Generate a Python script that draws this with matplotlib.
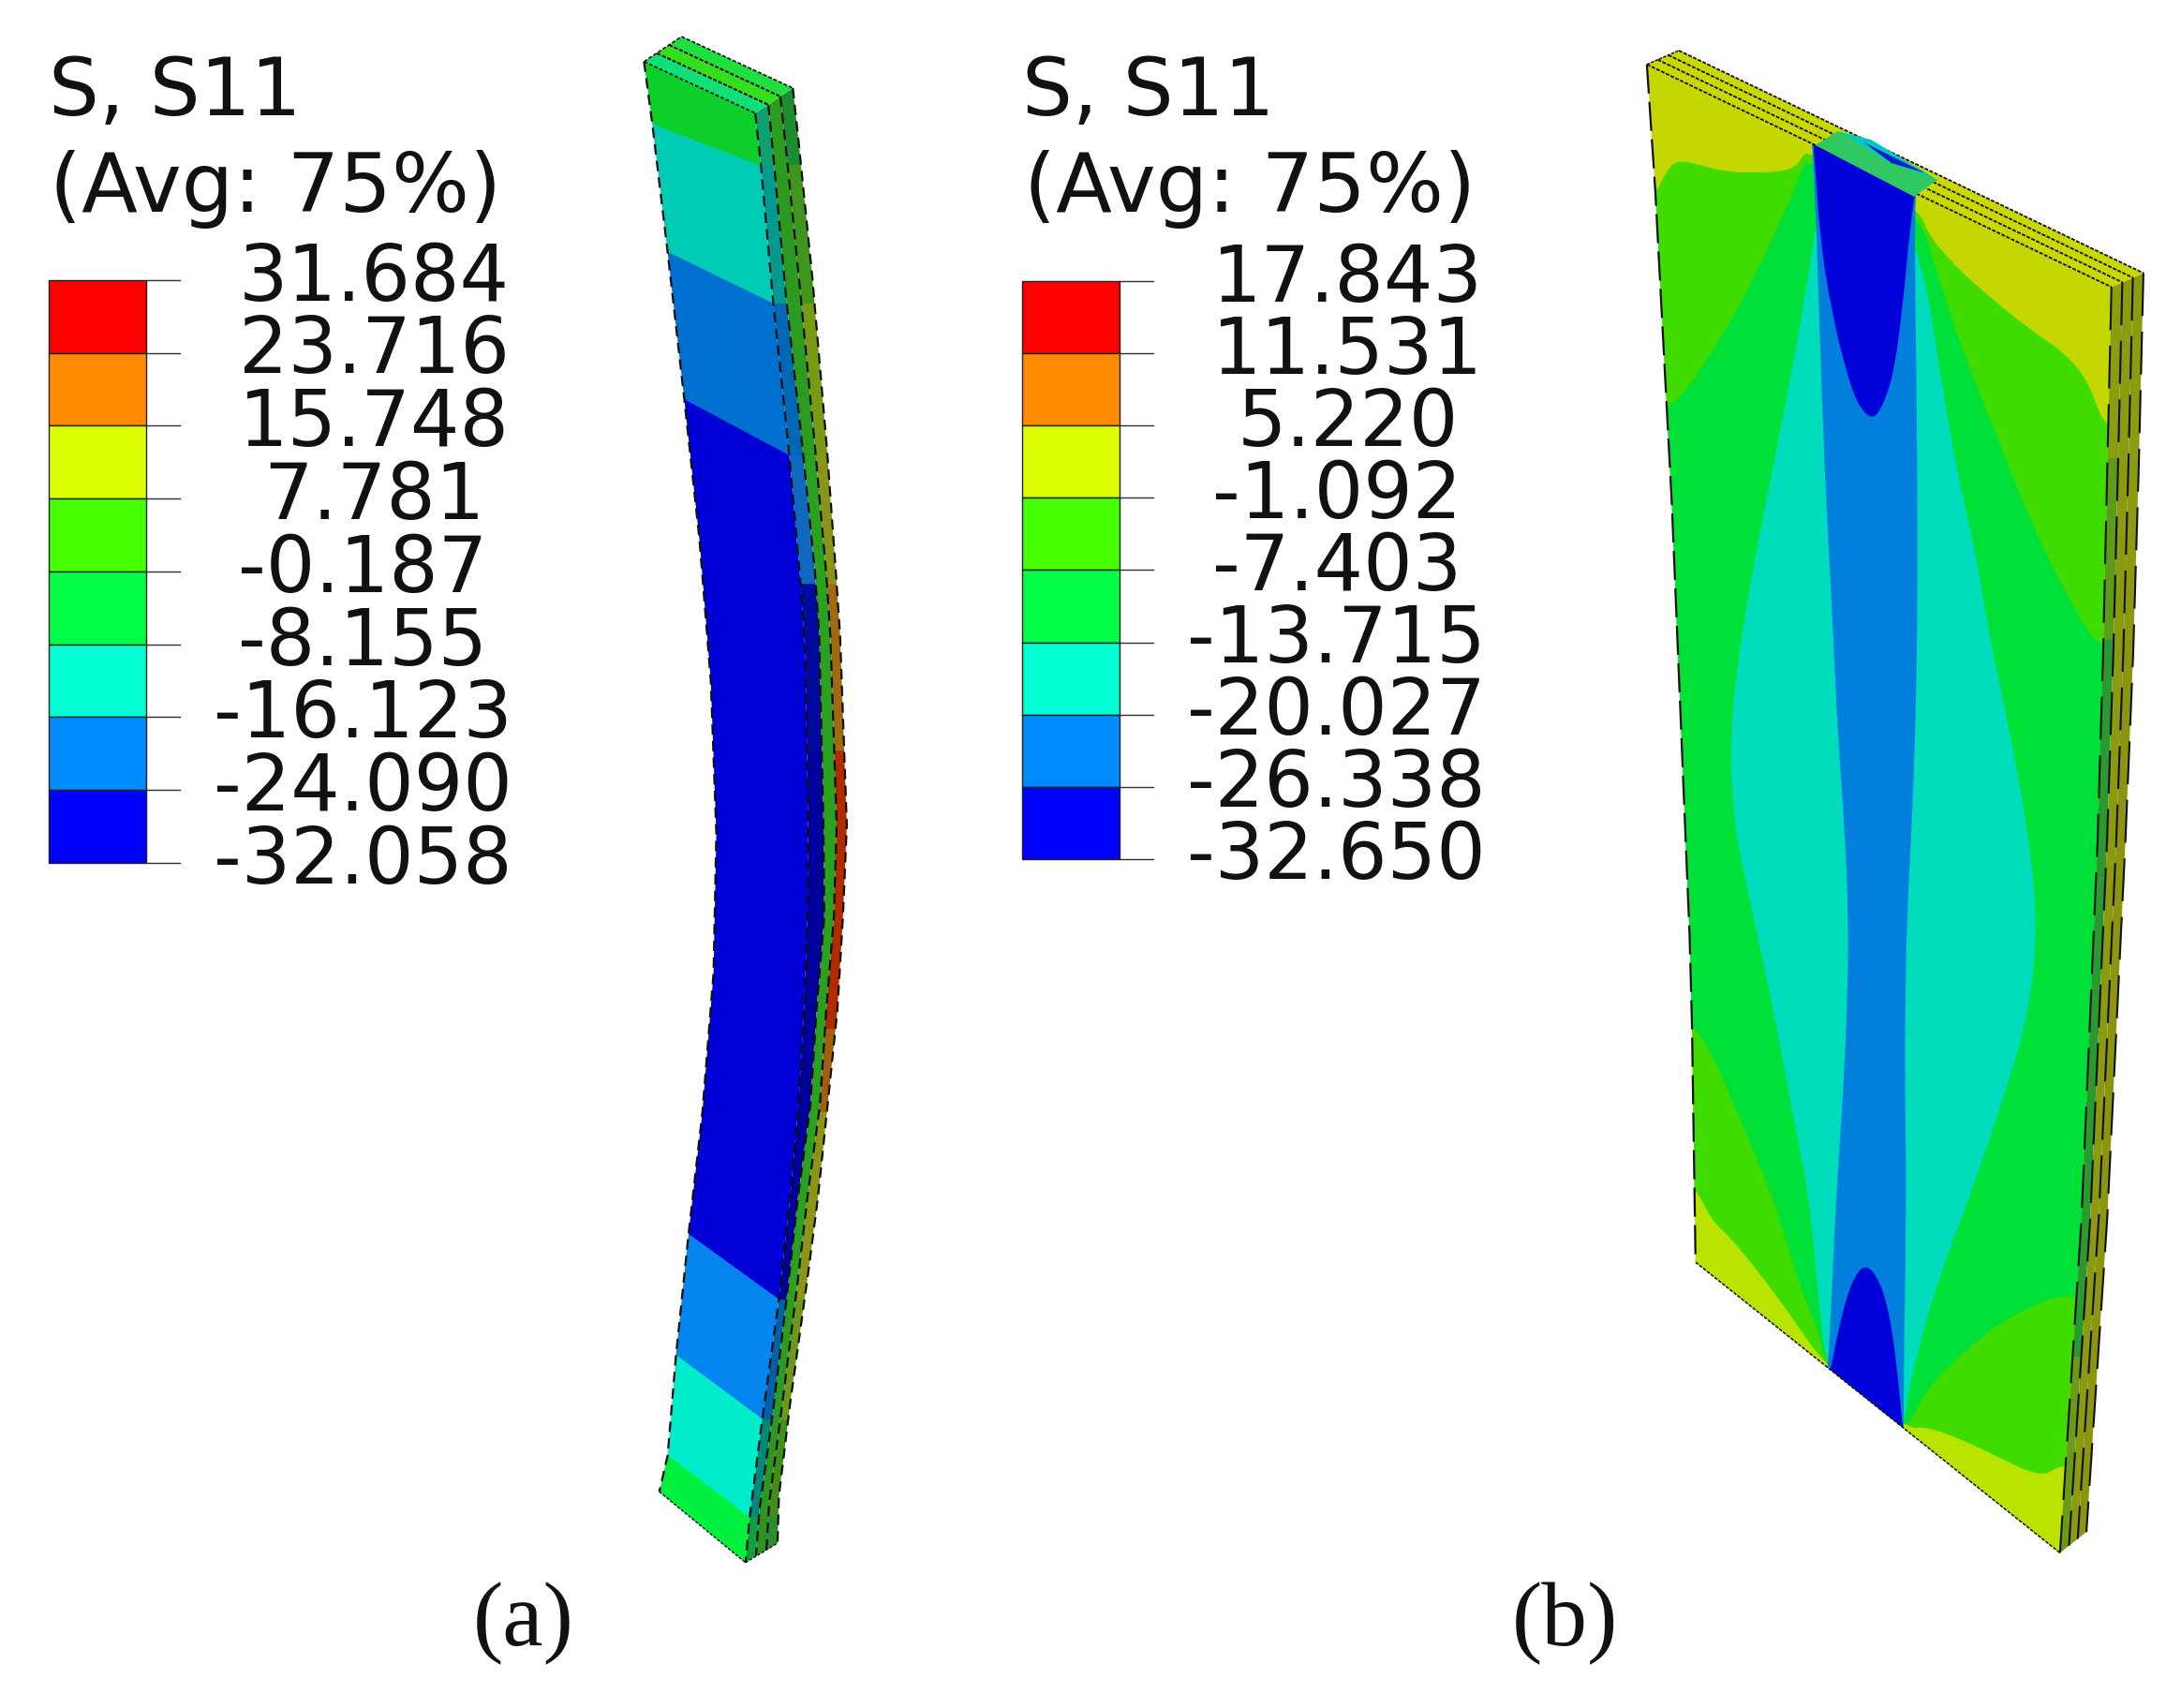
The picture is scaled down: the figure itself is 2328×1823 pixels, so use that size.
#!/usr/bin/python3
import numpy as np
import matplotlib
matplotlib.use("Agg")
import matplotlib.pyplot as plt
from matplotlib.patches import Polygon, Rectangle, PathPatch
from matplotlib.path import Path

# everything is laid out in these units, the picture is 1568 wide
W, H = 1568.0, 1228.5

legend_a = ["31.684", "23.716", "15.748", "7.781", "-0.187", "-8.155", "-16.123", "-24.090", "-32.058"]
legend_b = ["17.843", "11.531", "5.220", "-1.092", "-7.403", "-13.715", "-20.027", "-26.338", "-32.650"]
bar_colors = ["#ff0000", "#ff8c00", "#dcff00", "#46ff00", "#00ff46", "#00ffd2", "#008cff", "#0000ff"]
title_lines = ["S, S11", "(Avg: 75%)"]

# panel (a): bent strip seen from the side
a_left = [(463, 45), (469, 90), (480, 182), (492, 288), (503, 390), (511, 490), (515, 600),
          (513, 700), (505, 800), (495, 888), (486, 975), (480, 1047), (474, 1073)]
a_right = [(543, 82), (547, 119), (556, 219), (567, 323), (575, 413), (579, 470), (581, 594),
           (580.5, 660), (578, 727), (574, 795), (568, 862), (560, 935), (548, 1021), (539, 1091), (536, 1124)]
a_div1 = [(552.4, 76), (556, 113), (565, 213), (577, 323), (586, 413), (589, 458), (592, 594),
          (592.6, 660), (587, 727), (582.6, 795), (573.6, 862), (566, 930), (555.5, 1017), (546, 1086), (543.5, 1119)]
a_div2 = [(561, 70), (565, 107), (575, 207), (586, 323), (594, 413), (597, 458), (601.5, 594),
          (599.5, 660), (594, 727), (589.5, 795), (580.4, 862), (573, 926), (562, 1013), (553, 1081), (551, 1115)]
a_outer = [(570, 64), (574, 101), (584, 200), (594.5, 323), (601, 413), (604, 458), (608.8, 594),
           (606, 660), (602, 727), (595, 795), (588, 862), (581, 916), (568, 1010), (560, 1076), (559, 1110)]
a_cuts = [((469, 90), (544, 119)), ((480, 182), (556, 219)), ((492, 288), (567, 328)),
          ((495, 888), (560, 935)), ((486, 975), (548, 1021)), ((480, 1047), (538, 1091))]
a_band_colors = ["#0ccf2c", "#00ccb4", "#0070d0", "#0000d6", "#0484ee", "#00eccb", "#00f040"]
a_side_breaks = [40, 119, 219, 328, 420, 540, 740, 800, 935, 1021, 1091, 1140]
a_side_colors = [
    ["#10a070", "#009a90", "#0068b4", "#1068c0", "#000aa0", "#00009c", "#00009c", "#00009c", "#0060a8", "#008878", "#10a040"],
    ["#2c9c20", "#2c9a20", "#2c9c20", "#2ca020", "#2ca020", "#2ca020", "#2ca020", "#2ca020", "#2c9c20", "#2c9820", "#2c9420"],
    ["#1c8c30", "#40961c", "#789a14", "#8c9418", "#a06a10", "#b02c00", "#a06010", "#8c9418", "#70961a", "#409018", "#2c8c30"],
]
a_top_colors = ["#10e078", "#34e01c", "#20e040"]

# panel (b): plate, same idea with contour regions
b_left = [(1184, 47), (1190, 137), (1202, 364), (1214.7, 673), (1216.4, 736), (1219, 908)]
b_front = [(1518, 207), (1515, 337), (1512, 471), (1508, 606), (1496.5, 876), (1481, 1117)]
b_outer = [(1541, 197), (1537.6, 337), (1533.6, 471), (1528, 606), (1515, 876), (1500, 1102)]
b_lime = [(1170, 160), (1191, 139), (1198, 123.5), (1206, 115.6), (1221.5, 119), (1239.5, 124), (1262, 125),
          (1284.6, 123.5), (1293.6, 118), (1299, 107), (1379, 150), (1386, 168), (1400, 186), (1424, 209),
          (1460, 238), (1484, 254), (1501, 274), (1513, 308), (1540, 320), (1540, 1050), (1482, 1053),
          (1468, 1063), (1436, 1048), (1412, 1036), (1384, 1026), (1371, 1028), (1314, 985), (1285, 943),
          (1266.6, 918), (1244, 890), (1230, 877.5), (1218.5, 853), (1190, 830)]
b_green = [(1300, 110), (1291, 135), (1273, 175), (1250, 222), (1228, 258), (1208, 287), (1195, 295), (1170, 300),
           (1170, 720), (1205, 730), (1216.5, 736), (1232.6, 761), (1255, 815), (1275, 862), (1296, 932),
           (1305, 950), (1314, 986), (1368, 1028), (1376, 1019), (1381, 1006), (1400, 983), (1436, 952),
           (1472, 934), (1492, 932), (1540, 930), (1540, 470), (1512, 464), (1502, 458), (1466, 390),
           (1439, 323), (1408, 245), (1392, 195), (1379, 152)]
b_cyan = [(1310, 130), (1298, 215), (1277.5, 323), (1264, 390), (1251.7, 458), (1243.8, 525), (1246, 593),
          (1260.7, 660), (1275, 727), (1287.6, 795), (1301, 862), (1308, 943), (1314, 990), (1368, 1032),
          (1372, 999), (1390, 930), (1415.6, 862), (1439, 795), (1459.4, 727), (1465, 660), (1457, 593),
          (1444.8, 525), (1430, 458), (1419, 390), (1403, 323), (1376, 145)]
b_blue = [(1300, 90), (1304, 108), (1311, 323), (1314.5, 390), (1318, 458), (1321, 525), (1326, 593), (1329, 660),
          (1328, 727), (1324.6, 795), (1320, 862), (1317, 930), (1314, 986), (1312, 1000), (1370, 1050),
          (1368, 1028), (1370.7, 862), (1369.6, 795), (1369.6, 727), (1371, 660), (1374.5, 593), (1377, 525),
          (1378.5, 458), (1378.5, 323), (1376, 143), (1380, 120)]
b_tongue_top = [(1303, 90), (1304, 108), (1309, 177), (1317, 225), (1326, 263), (1335, 291), (1346, 303), (1354, 292),
                (1362, 267), (1368, 220), (1372, 177), (1376, 143), (1380, 120)]
b_tongue_low = [(1312, 1000), (1316, 986), (1322, 955), (1328, 932), (1334, 917), (1341, 910), (1349, 917),
                (1357, 938), (1363, 975), (1368, 1028), (1370, 1050)]
b_colors = {"base": "#c4d800", "low": "#b8e400", "lime": "#40dc00", "green": "#00e038", "cyan": "#00dcbc",
            "blue": "#0080dc", "dark": "#0000d8"}
b_side_breaks = [190, 330, 460, 976, 1125]
b_side_colors = [
    ["#8c9c10", "#5c9c18", "#2a9a30", "#6a9a18"],
    ["#8c9c10", "#8c9a10", "#8c9a10", "#8c9a10"],
    ["#8c9c10", "#8c9a10", "#8c9410", "#8c9410"],
]


def smooth(pts):
    # closed curve, the points act as control points of quadratic pieces
    pts = np.array(pts, dtype=float)
    mids = (pts + np.roll(pts, -1, axis=0)) / 2
    verts, codes = [mids[-1]], [Path.MOVETO]
    for i in range(len(pts)):
        verts += [pts[i], mids[i]]
        codes += [Path.CURVE3, Path.CURVE3]
    return Path(verts, codes)


def clipped(ax, patch, clip):
    ax.add_patch(patch)
    patch.set_clip_path(clip)


def dash(ax, pts, lw=1.4, on=3.0, off=1.6):
    pts = np.array(pts, dtype=float)
    ax.plot(pts[:, 0], pts[:, 1], color="#101010", lw=lw, ls=(0, (on, off)), dash_capstyle="butt")


def draw_legend(ax, x0, top, bottom, labels):
    edges = np.linspace(top, bottom, len(bar_colors) + 1)
    for i, c in enumerate(bar_colors):
        ax.add_patch(Rectangle((x0, edges[i]), 70, edges[i + 1] - edges[i], fc=c, ec="#202020", lw=1.0))
    for i, lab in enumerate(labels):
        ax.plot([x0 + 70, x0 + 94], [edges[i], edges[i]], color="#303030", lw=1.0)
        xc = x0 + (226 if lab.startswith("-") else 234)
        ax.text(xc, edges[i] + 14, lab, ha="center", va="baseline", fontsize=59.5, color="#111111")
    ax.text(x0, 83, title_lines[0], va="baseline", fontsize=61, color="#111111")
    ax.text(x0 + 1, 152, title_lines[1], va="baseline", fontsize=63, color="#111111")


def draw_panel_a(ax):
    left, right = np.array(a_left, float), np.array(a_right, float)
    layers = [right, np.array(a_div1, float), np.array(a_div2, float), np.array(a_outer, float)]
    face = Polygon(np.vstack([left, right[::-1]]), fc="none", ec="none")
    ax.add_patch(face)
    # colour bands on the front face, each one ends at a cut line
    lines = [((400, -200), (700, -50))] + a_cuts + [((400, 1100), (700, 1300))]
    for i, c in enumerate(a_band_colors):
        (p0, p1), (q0, q1) = lines[i], lines[i + 1]
        p0, p1, q0, q1 = [np.array(v, float) for v in (p0, p1, q0, q1)]
        pts = [p0 - (p1 - p0), p1 + (p1 - p0), q1 + (q1 - q0), q0 - (q1 - q0)]
        clipped(ax, Polygon(pts, fc=c, ec=c, lw=0.5), face)

    # three layers on the side
    for k in range(3):
        strip = Polygon(np.vstack([layers[k], layers[k + 1][::-1]]), fc="none", ec="none")
        ax.add_patch(strip)
        for j, c in enumerate(a_side_colors[k]):
            y0, y1 = a_side_breaks[j], a_side_breaks[j + 1]
            clipped(ax, Rectangle((500, y0), 150, y1 - y0, fc=c, ec=c, lw=0.5), strip)
        dash(ax, layers[k + 1], lw=1.6, on=5, off=3)
    dash(ax, left, lw=1.6, on=5, off=3)
    dash(ax, right, lw=1.6, on=5, off=3)

    # top of the strip
    tl = left[0]
    tops = [lay[0] for lay in layers]
    for k in range(3):
        pts = [tl + tops[k] - tops[0], tops[k], tops[k + 1], tl + tops[k + 1] - tops[0]]
        ax.add_patch(Polygon(pts, fc=a_top_colors[k], ec="none"))
        dash(ax, [pts[0], pts[1]], lw=1.2, on=2.4, off=1.2)
        dash(ax, [pts[3], pts[2]], lw=1.2, on=2.4, off=1.2)
    dash(ax, [tl, tl + tops[3] - tops[0]], lw=1.2, on=2.4, off=1.2)
    dash(ax, [left[-1], right[-1]], lw=1.0, on=2.4, off=1.2)
    dash(ax, [right[-1], layers[3][-1]], lw=1.0, on=2.4, off=1.2)


def draw_panel_b(ax):
    left, front, outer = np.array(b_left, float), np.array(b_front, float), np.array(b_outer, float)
    face = Polygon(np.vstack([left, front[::-1]]), fc=b_colors["base"], ec="none")
    ax.add_patch(face)
    clipped(ax, Rectangle((1150, 700), 400, 450, fc=b_colors["low"], ec="none"), face)
    for key, pts in [("lime", b_lime), ("green", b_green), ("cyan", b_cyan), ("blue", b_blue),
                     ("dark", b_tongue_top), ("dark", b_tongue_low)]:
        clipped(ax, PathPatch(smooth(pts), fc=b_colors[key], ec="none"), face)

    fracs = [0, 0.34, 0.67, 1]
    for k in range(3):
        inner = front + (outer - front) * fracs[k]
        outside = front + (outer - front) * fracs[k + 1]
        strip = Polygon(np.vstack([inner, outside[::-1]]), fc="none", ec="none")
        ax.add_patch(strip)
        for j, c in enumerate(b_side_colors[k]):
            y0, y1 = b_side_breaks[j], b_side_breaks[j + 1]
            clipped(ax, Rectangle((1450, y0), 120, y1 - y0, fc=c, ec=c, lw=0.5), strip)
        dash(ax, outside, lw=1.5, on=22, off=8)
    dash(ax, front, lw=1.5, on=22, off=8)
    dash(ax, left, lw=1.6, on=14, off=4)
    dash(ax, [left[-1], front[-1]], lw=1.1, on=2.4, off=1.0)

    # top of the plate, the dent under the load goes over the edge lines
    tl, tr = left[0], front[0]
    off = outer[0] - front[0]
    ax.add_patch(Polygon([tl, tr, tr + off, tl + off], fc="#c8d800", ec="none"))
    for f in fracs:
        dash(ax, [tl + off * f, tr + off * f], lw=1.3, on=2.2, off=0.9)
    dash(ax, [tl, tl + off], lw=1.1, on=2.2, off=0.9)
    dent = Polygon([(1305, 105), (1376, 142), (1393, 130), (1321, 95)], fc="#30c860", ec="none", zorder=3)
    ax.add_patch(dent)
    ax.add_patch(Polygon([(1321, 95), (1345, 101), (1388, 127), (1393, 130), (1360, 118)],
                         fc="#00c8c0", ec="none", zorder=3))
    ax.add_patch(Polygon([(1340, 103), (1384, 125), (1360, 118)], fc="#0020c8", ec="none", zorder=3))


def main():
    fig = plt.figure(figsize=(23.28, 18.24), dpi=100)
    ax = fig.add_axes([0, 0, 1, 1])
    ax.set_xlim(0, W)
    ax.set_ylim(H, 0)
    ax.axis("off")

    draw_legend(ax, 35, 202, 621, legend_a)
    draw_legend(ax, 735, 203, 618, legend_b)
    draw_panel_a(ax)
    draw_panel_b(ax)

    ax.text(376, 1183, "(a)", ha="center", va="baseline", family="Liberation Serif", fontsize=70, color="#111111")
    ax.text(1125, 1183, "(b)", ha="center", va="baseline", family="Liberation Serif", fontsize=70, color="#111111")

    fig.savefig("out.png", dpi=100)


if __name__ == "__main__":
    main()
